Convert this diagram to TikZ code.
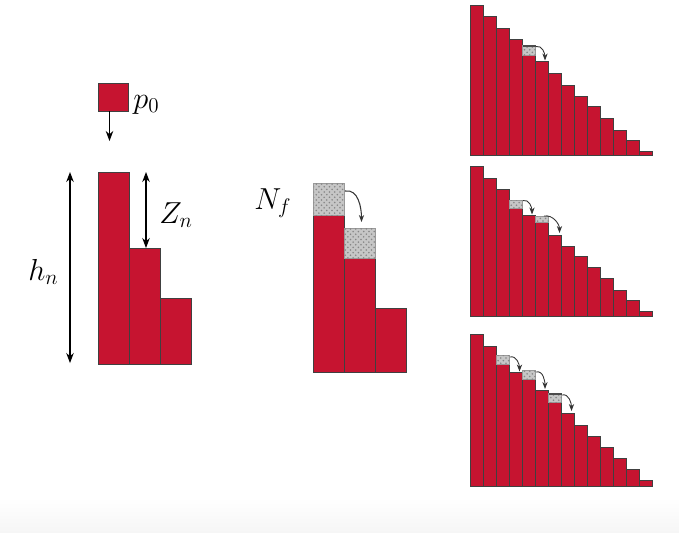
\documentclass[tikz,border=0pt]{standalone}
\usepackage{amsmath}
\usetikzlibrary{arrows.meta, patterns}
\definecolor{barred}{RGB}{198,20,48}
\tikzset{
    bar/.style={fill=barred, draw=black!75, line width=0.5pt},
    grain/.style={fill=gray!45, draw=gray!80, line width=0.3pt, postaction={pattern=crosshatch dots, pattern color=gray!95}},
    graintop/.style={line width=1.3pt, black!70},
    arrow/.style={->, >=Stealth, line width=0.6pt},
    dblarrow/.style={<->, >=Stealth, line width=0.6pt},
    hop/.style={->, >={Stealth[length=4pt]}, line width=0.5pt, black!80},
    lbl/.style={anchor=base west, font=\LARGE, inner sep=0pt}
}
% staircase of 14 bars: #1 = bottom, #2 = list of tops
\newcommand{\drawstairs}[2]{%
    \foreach \t [count=\i from 0] in {#2} {
        \draw[bar] ({470.5+13*\i}, #1) rectangle ({483.5+13*\i}, \t);
    }%
}

\begin{document}
\begin{tikzpicture}
    \begin{scope}[x=0.02cm, y=-0.02cm]
        \useasboundingbox (0,0) rectangle (679,532);
        % Bottom band
        \shade[top color=white, bottom color=gray!7] (0,498) rectangle (679,532);

        % Falling particle
        \draw[bar] (98,83) rectangle (128.5,111);
        \coordinate (pbot) at (109.5,111);
        \coordinate (pend) at (109.5,141);
        \draw[arrow] (pbot) -- (pend);
        \node[lbl] (p0) at (133,108) {$p_0$};

        % Left pile
        \draw[bar] (98,364) rectangle (129,172);
        \draw[bar] (129,364) rectangle (160.5,248);
        \draw[bar] (160.5,364) rectangle (191.5,298);
        \coordinate (htop) at (70,172);
        \coordinate (hbot) at (70,363);
        \draw[dblarrow] (htop) -- (hbot);
        \node[lbl] (hn) at (28,280) {$h_n$};
        \coordinate (ztop) at (146,172);
        \coordinate (zbot) at (146,248);
        \draw[dblarrow] (ztop) -- (zbot);
        \node[lbl] (zn) at (159,223) {$Z_n$};

        % Middle pile with toppling grains
        \draw[bar] (313.5,372.5) rectangle (344,215);
        \draw[bar] (344,372.5) rectangle (375.5,258.5);
        \draw[bar] (375.5,372.5) rectangle (406.5,308.5);
        \draw[grain] (313.5,215) rectangle (344,183);
        \draw[grain] (344,258.5) rectangle (375.5,228.5);
        \coordinate (nfrom) at (345,191);
        \coordinate (nto) at (361.5,222);
        \draw[hop, line width=0.6pt] (nfrom) to[out=10, in=90] (nto);
        \node[lbl] (nf) at (254,209) {$N_f$};

        % Right: first avalanche
        \drawstairs{155.5}{5.7, 16.7, 28.3, 39, 55, 61.7, 73.3, 85, 96, 106.7, 118.3, 130, 140.7, 151.7}
        \draw[grain] (522.5,55) rectangle (535.5,45.7);
        \draw[graintop] (522.5,46.3) -- (535.5,46.3);
        \coordinate (a1) at (536,46.5);
        \coordinate (b1) at (545,60.5);
        \draw[hop] (a1) to[out=15, in=90] (b1);

        % Right: second avalanche
        \drawstairs{316.5}{166.7, 178.3, 189, 208.3, 215.7, 222.3, 235, 246, 256.7, 267.3, 278.3, 290, 300.7, 311.7}
        \draw[grain] (509.5,208.3) rectangle (522.5,200);
        \draw[grain] (535.5,222.3) rectangle (548.5,216.5);
        \coordinate (a2) at (523,200.5);
        \coordinate (b2) at (532,214.5);
        \draw[hop] (a2) to[out=15, in=90] (b2);
        \coordinate (a3) at (544,216);
        \coordinate (b3) at (559.5,233);
        \draw[hop] (a3) to[out=10, in=90] (b3);

        % Right: third avalanche
        \drawstairs{486}{334, 346, 364.3, 372.7, 379.3, 390.7, 402.7, 413.3, 425, 436, 447.3, 458.3, 469.3, 480}
        \draw[grain] (496.5,364.3) rectangle (509.5,355);
        \draw[grain] (522.5,379.3) rectangle (535.5,370);
        \draw[grain] (548.5,402.7) rectangle (561.5,393.3);
        \draw[graintop] (548.5,394) -- (561.5,394);
        \coordinate (a4) at (510,357);
        \coordinate (b4) at (519.5,371.5);
        \draw[hop] (a4) to[out=15, in=90] (b4);
        \coordinate (a5) at (536,372);
        \coordinate (b5) at (545,389);
        \draw[hop] (a5) to[out=15, in=90] (b5);
        \coordinate (a6) at (562,395);
        \coordinate (b6) at (571.5,411);
        \draw[hop] (a6) to[out=15, in=90] (b6);
    \end{scope}
\end{tikzpicture}
\end{document}
